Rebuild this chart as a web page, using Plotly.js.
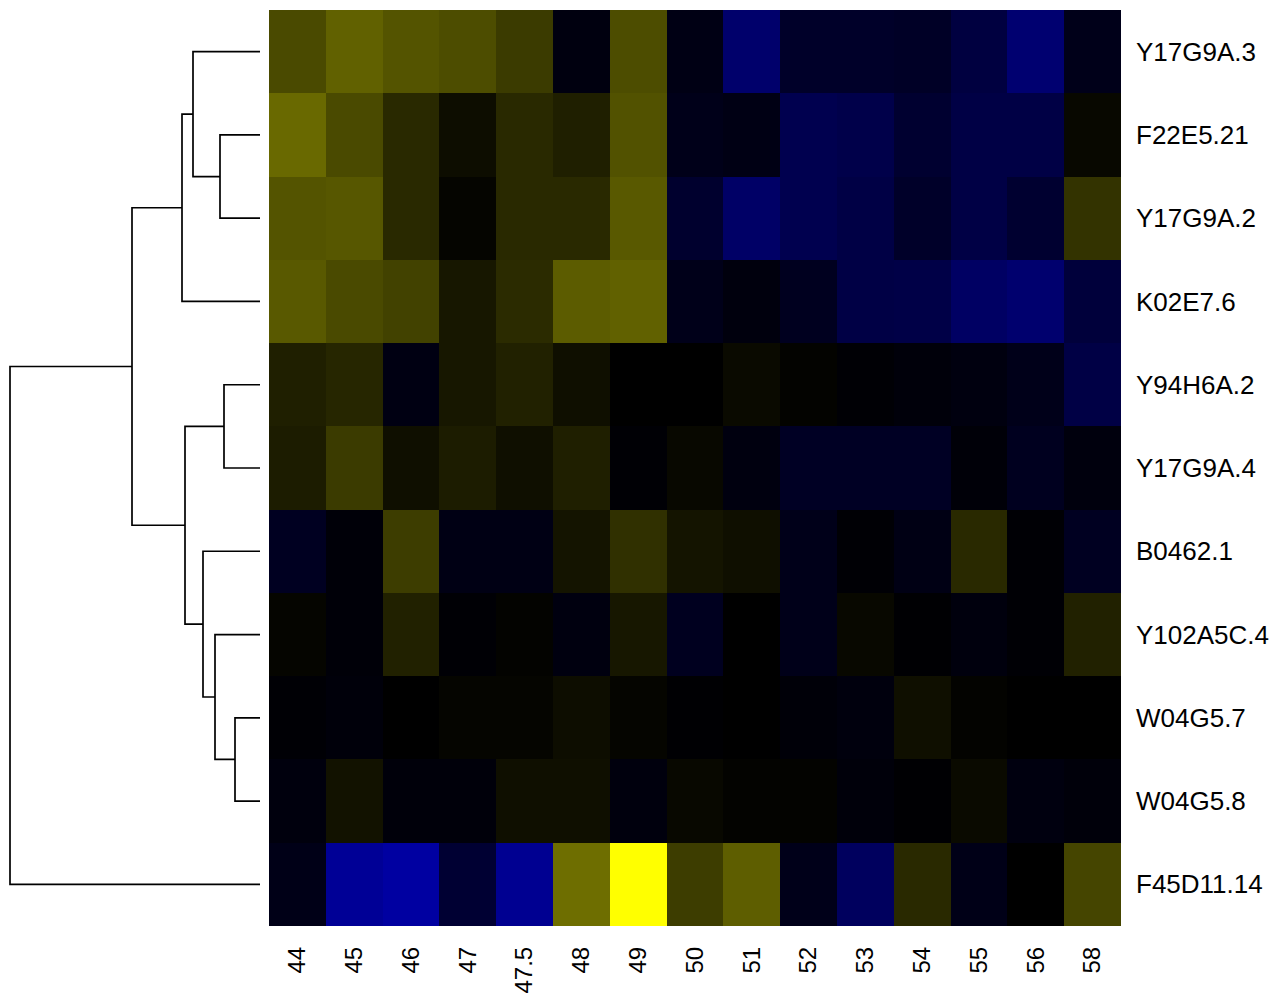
<!DOCTYPE html>
<html>
<head>
<meta charset="utf-8">
<script src="https://cdn.plot.ly/plotly-3.0.1.min.js"></script>
<style>html,body{margin:0;padding:0;background:#fff;}#chart{width:1274px;height:993px;}</style>
</head>
<body>
<div id="chart"></div>
<script>
// Column (sample) labels, left to right
const colLabels = ["44","45","46","47","47.5","48","49","50","51","52","53","54","55","56","58"];
// Row (gene) labels, top to bottom (dendrogram order)
const rowLabels = ["Y17G9A.3","F22E5.21","Y17G9A.2","K02E7.6","Y94H6A.2","Y17G9A.4","B0462.1","Y102A5C.4","W04G5.7","W04G5.8","F45D11.14"];

// Scaled values per row (negative = blue, positive = yellow)
const rowY17G9A_3  = [0.29, 0.38, 0.33, 0.30, 0.23, -0.06, 0.30, -0.08, -0.42, -0.16, -0.16, -0.15, -0.25, -0.44, -0.10];
const rowF22E5_21  = [0.41, 0.29, 0.16, 0.05, 0.16, 0.12, 0.32, -0.10, -0.08, -0.31, -0.29, -0.19, -0.27, -0.27, 0.03];
const rowY17G9A_2  = [0.33, 0.34, 0.16, 0.02, 0.16, 0.16, 0.35, -0.18, -0.40, -0.31, -0.27, -0.16, -0.27, -0.19, 0.20];
const rowK02E7_6   = [0.35, 0.29, 0.26, 0.09, 0.17, 0.36, 0.38, -0.10, -0.05, -0.12, -0.27, -0.28, -0.39, -0.43, -0.23];
const rowY94H6A_2  = [0.12, 0.15, -0.07, 0.09, 0.13, 0.06, 0.00, 0.00, 0.04, 0.01, -0.02, -0.04, -0.06, -0.10, -0.27];
const rowY17G9A_4  = [0.11, 0.23, 0.06, 0.11, 0.06, 0.12, -0.02, 0.03, -0.06, -0.14, -0.14, -0.14, -0.03, -0.12, -0.05];
const rowB0462_1   = [-0.13, -0.03, 0.24, -0.08, -0.08, 0.08, 0.19, 0.08, 0.06, -0.10, -0.02, -0.08, 0.16, -0.02, -0.13];
const rowY102A5C_4 = [0.02, -0.03, 0.13, -0.02, 0.01, -0.06, 0.09, -0.12, 0.00, -0.10, 0.03, -0.01, -0.05, -0.02, 0.13];
const rowW04G5_7   = [-0.02, -0.04, 0.00, 0.02, 0.02, 0.05, 0.02, -0.01, 0.00, -0.03, -0.05, 0.06, 0.01, 0.00, 0.00];
const rowW04G5_8   = [-0.05, 0.07, -0.04, -0.04, 0.06, 0.06, -0.05, 0.03, 0.01, 0.01, -0.04, -0.01, 0.04, -0.06, -0.04];
const rowF45D11_14 = [-0.09, -0.59, -0.63, -0.20, -0.57, 0.43, 1.00, 0.24, 0.37, -0.10, -0.37, 0.16, -0.09, 0.00, 0.27];

// Row dendrogram (hclust-style merges; negative = leaf number (1-based, display order), positive = earlier merge)
const mergeLeft   = [-2, -1, 2, -5, -9, -8, -7, 4, 3, 9];
const mergeRight  = [-3,  1, -4, -6, -10, 5, 6, 7, 8, -11];
const mergeHeight = [40, 67, 78, 36, 25, 45, 57, 75, 128, 250];

const z = [rowY17G9A_3, rowF22E5_21, rowY17G9A_2, rowK02E7_6, rowY94H6A_2, rowY17G9A_4,
           rowB0462_1, rowY102A5C_4, rowW04G5_7, rowW04G5_8, rowF45D11_14];

const colIdx = colLabels.map((_, i) => i);
const rowIdx = rowLabels.map((_, i) => i);

// Build dendrogram segments from merges
const nodePos = [], nodeH = [];
function childInfo(c) {
  if (c < 0) return {p: -c - 1, h: 0};
  return {p: nodePos[c - 1], h: nodeH[c - 1]};
}
const dx = [], dy = [];
for (let i = 0; i < mergeLeft.length; i++) {
  const a = childInfo(mergeLeft[i]);
  const b = childInfo(mergeRight[i]);
  const h = mergeHeight[i];
  dx.push(a.h, h, h, b.h, null);
  dy.push(a.p, a.p, b.p, b.p, null);
  nodePos.push((a.p + b.p) / 2);
  nodeH.push(h);
}

const W = 1274, H = 993;
const heat = {
  type: 'heatmap',
  x: colIdx, y: rowIdx, z: z,
  zmin: -1, zmax: 1,
  colorscale: [[0, 'rgb(0,0,255)'], [0.5, 'rgb(0,0,0)'], [1, 'rgb(255,255,0)']],
  showscale: false,
  hoverinfo: 'skip',
  xaxis: 'x', yaxis: 'y'
};
const dendro = {
  type: 'scatter', mode: 'lines',
  x: dx, y: dy,
  line: {color: '#000', width: 1.7},
  hoverinfo: 'skip',
  xaxis: 'x2', yaxis: 'y',
  cliponaxis: false
};

const layout = {
  width: W, height: H,
  margin: {l: 0, r: 0, t: 0, b: 0, pad: 0},
  paper_bgcolor: '#fff', plot_bgcolor: 'rgba(0,0,0,0)',
  showlegend: false,
  font: {family: 'Liberation Sans, Arial, sans-serif', color: '#000'},
  xaxis: {
    domain: [269 / W, 1121 / W],
    range: [-0.5, colLabels.length - 0.5],
    tickvals: colIdx, ticktext: colLabels,
    tickangle: -90, ticks: '', ticklabelstandoff: 15,
    tickfont: {size: 24, color: '#000'},
    showgrid: false, zeroline: false, showline: false,
    anchor: 'y', fixedrange: true
  },
  xaxis2: {
    domain: [0, 260 / W],
    range: [260, 0],
    visible: false, showgrid: false, zeroline: false,
    anchor: 'y', fixedrange: true
  },
  yaxis: {
    domain: [1 - 926 / H, 1 - 10 / H],
    range: [rowLabels.length - 0.5, -0.5],
    tickvals: rowIdx, ticktext: rowLabels,
    side: 'right', ticks: '', ticklabelstandoff: 14,
    tickfont: {size: 26, color: '#000'},
    showgrid: false, zeroline: false, showline: false,
    fixedrange: true
  }
};

Plotly.newPlot('chart', [heat, dendro], layout, {displayModeBar: false, staticPlot: true});
</script>
</body>
</html>
